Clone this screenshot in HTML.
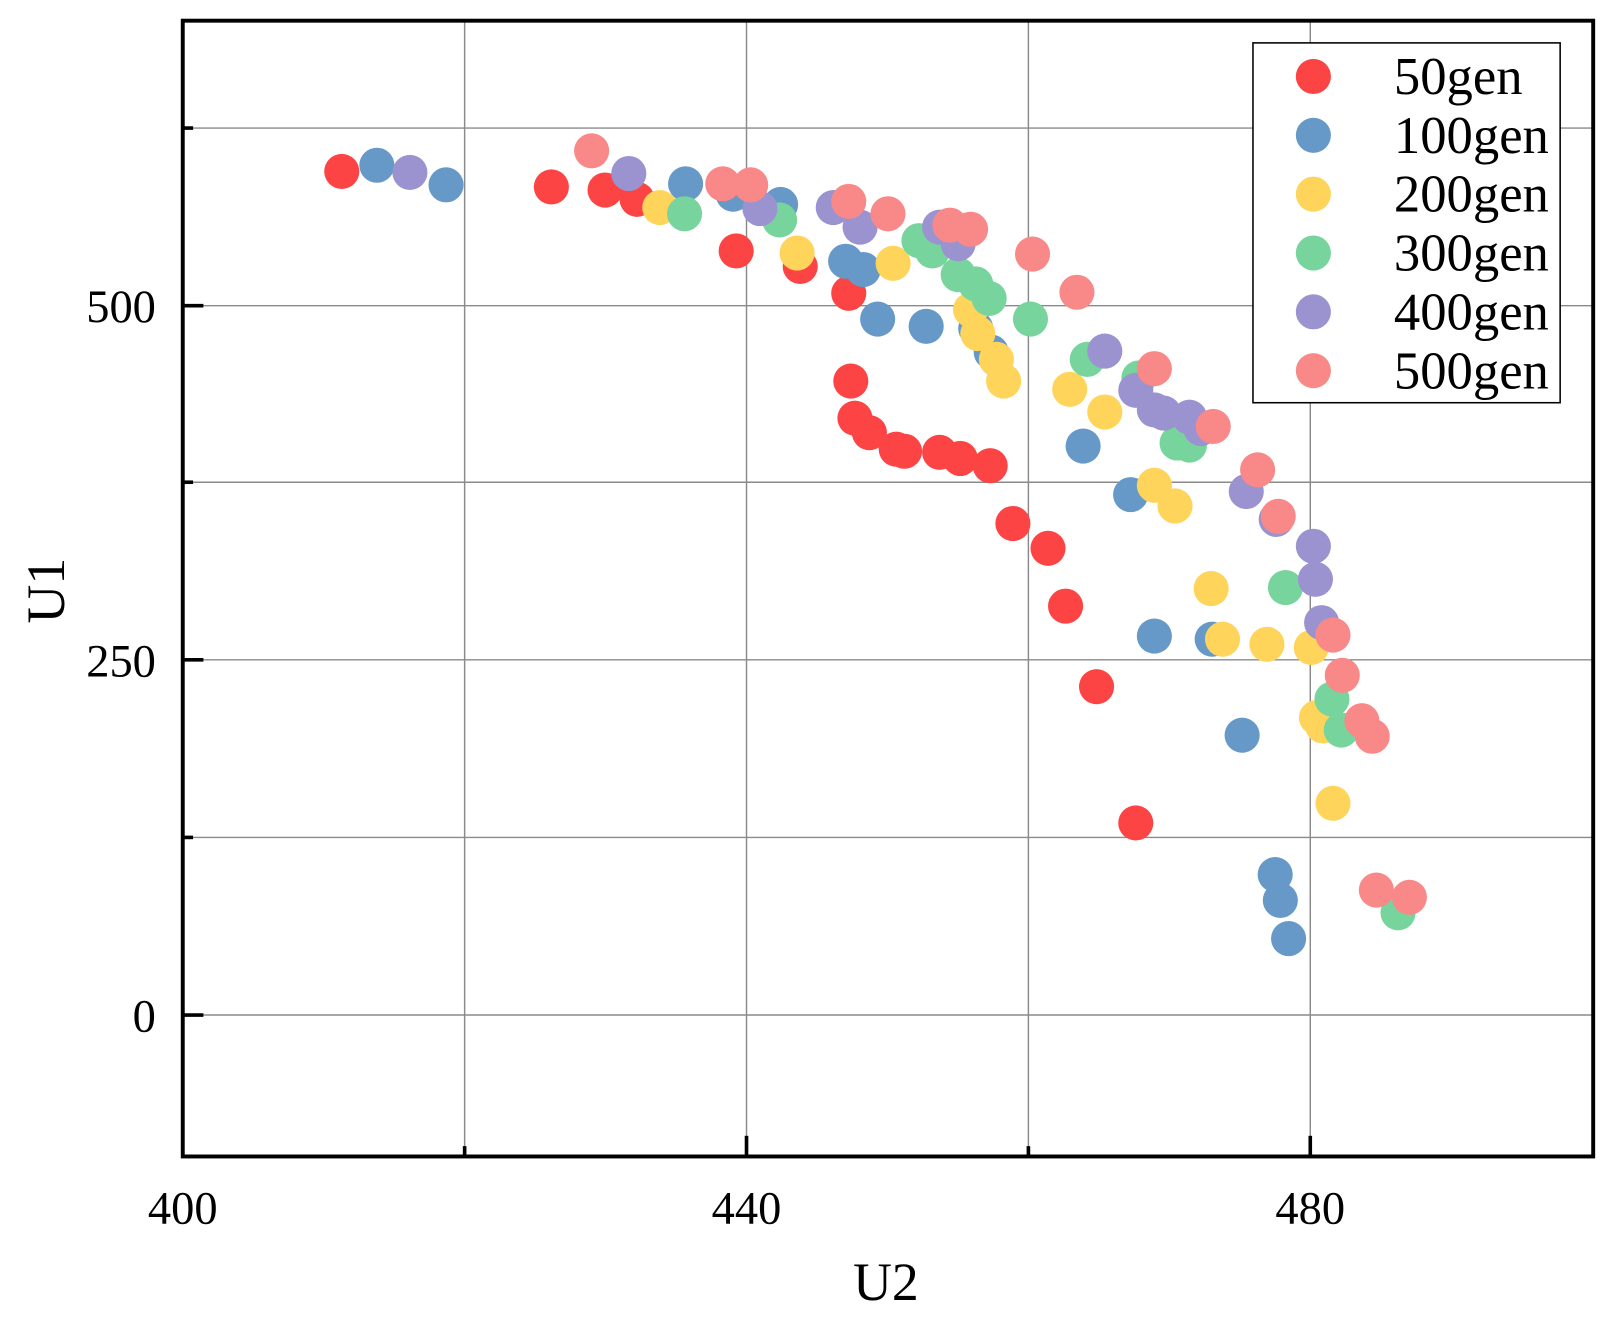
<!DOCTYPE html>
<html><head><meta charset="utf-8"><style>
html,body{margin:0;padding:0;background:#fff;}
svg{display:block;}
text{font-family:"Liberation Serif",serif;fill:#000;}
</style></head><body>
<svg width="1619" height="1331" viewBox="0 0 1568 1289" xmlns="http://www.w3.org/2000/svg">
<rect width="1568" height="1289" fill="#fff"/>
<g stroke="#8a8a8a" stroke-width="1.4">
<line x1="450" y1="20" x2="450" y2="1120"/>
<line x1="723" y1="20" x2="723" y2="1120"/>
<line x1="996" y1="20" x2="996" y2="1120"/>
<line x1="1269" y1="20" x2="1269" y2="1120"/>
<line x1="177" y1="124" x2="1543" y2="124"/>
<line x1="177" y1="296" x2="1543" y2="296"/>
<line x1="177" y1="467" x2="1543" y2="467"/>
<line x1="177" y1="639" x2="1543" y2="639"/>
<line x1="177" y1="811" x2="1543" y2="811"/>
<line x1="177" y1="983" x2="1543" y2="983"/>
</g>
<g stroke="#000" stroke-width="3.5">
<line x1="177" y1="124" x2="187" y2="124"/>
<line x1="177" y1="296" x2="197" y2="296"/>
<line x1="177" y1="467" x2="187" y2="467"/>
<line x1="177" y1="639" x2="197" y2="639"/>
<line x1="177" y1="811" x2="187" y2="811"/>
<line x1="177" y1="983" x2="197" y2="983"/>
<line x1="450" y1="1120" x2="450" y2="1110"/>
<line x1="723" y1="1120" x2="723" y2="1100"/>
<line x1="996" y1="1120" x2="996" y2="1110"/>
<line x1="1269" y1="1120" x2="1269" y2="1100"/>
</g>
<g fill="#fc4444">
<circle cx="331" cy="166" r="17"/><circle cx="534" cy="181" r="17"/><circle cx="586" cy="184" r="17"/><circle cx="617" cy="193" r="17"/><circle cx="713" cy="243" r="17"/><circle cx="775" cy="258" r="17"/><circle cx="822" cy="284" r="17"/><circle cx="824" cy="369" r="17"/><circle cx="828" cy="405" r="17"/><circle cx="842" cy="419" r="17"/><circle cx="868" cy="435" r="17"/><circle cx="876" cy="437" r="17"/><circle cx="910" cy="438" r="17"/><circle cx="930" cy="444" r="17"/><circle cx="959" cy="451" r="17"/><circle cx="981" cy="507" r="17"/><circle cx="1015" cy="531" r="17"/><circle cx="1032" cy="587" r="17"/><circle cx="1062" cy="665" r="17"/><circle cx="1100" cy="797" r="17"/>
</g>
<g fill="#6699c8">
<circle cx="365" cy="160" r="17"/><circle cx="432" cy="179" r="17"/><circle cx="664" cy="178" r="17"/><circle cx="710" cy="188" r="17"/><circle cx="756" cy="198" r="17"/><circle cx="819" cy="253" r="17"/><circle cx="836" cy="261" r="17"/><circle cx="850" cy="309" r="17"/><circle cx="897" cy="316" r="17"/><circle cx="945" cy="318" r="17"/><circle cx="960" cy="341" r="17"/><circle cx="1049" cy="432" r="17"/><circle cx="1095" cy="479" r="17"/><circle cx="1118" cy="616" r="17"/><circle cx="1174" cy="619" r="17"/><circle cx="1203" cy="712" r="17"/><circle cx="1235" cy="847" r="17"/><circle cx="1240" cy="872" r="17"/><circle cx="1248" cy="909" r="17"/>
</g>
<g fill="#fed45a">
<circle cx="639" cy="201" r="17"/><circle cx="772" cy="245" r="17"/><circle cx="865" cy="255" r="17"/><circle cx="940" cy="300" r="17"/><circle cx="947" cy="323" r="17"/><circle cx="965" cy="348" r="17"/><circle cx="972" cy="369" r="17"/><circle cx="1036" cy="377" r="17"/><circle cx="1070" cy="399" r="17"/><circle cx="1118" cy="470" r="17"/><circle cx="1138" cy="490" r="17"/><circle cx="1173" cy="570" r="17"/><circle cx="1184" cy="619" r="17"/><circle cx="1227" cy="624" r="17"/><circle cx="1270" cy="627" r="17"/><circle cx="1275" cy="695" r="17"/><circle cx="1281" cy="703" r="17"/><circle cx="1291" cy="778" r="17"/>
</g>
<g fill="#77d49c">
<circle cx="663" cy="207" r="17"/><circle cx="755" cy="213" r="17"/><circle cx="890" cy="233" r="17"/><circle cx="903" cy="243" r="17"/><circle cx="928" cy="266" r="17"/><circle cx="945" cy="275" r="17"/><circle cx="958" cy="289" r="17"/><circle cx="998" cy="309" r="17"/><circle cx="1053" cy="348" r="17"/><circle cx="1103" cy="366" r="17"/><circle cx="1140" cy="429" r="17"/><circle cx="1152" cy="431" r="17"/><circle cx="1245" cy="569" r="17"/><circle cx="1290" cy="677" r="17"/><circle cx="1299" cy="707" r="17"/><circle cx="1354" cy="884" r="17"/>
</g>
<g fill="#9b93d0">
<circle cx="397" cy="167" r="17"/><circle cx="609" cy="168" r="17"/><circle cx="736" cy="202" r="17"/><circle cx="807" cy="201" r="17"/><circle cx="833" cy="220" r="17"/><circle cx="910" cy="220" r="17"/><circle cx="928" cy="236" r="17"/><circle cx="1070" cy="340" r="17"/><circle cx="1100" cy="378" r="17"/><circle cx="1118" cy="397" r="17"/><circle cx="1127" cy="400" r="17"/><circle cx="1152" cy="404" r="17"/><circle cx="1163" cy="415" r="17"/><circle cx="1207" cy="476" r="17"/><circle cx="1236" cy="503" r="17"/><circle cx="1272" cy="529" r="17"/><circle cx="1274" cy="561" r="17"/><circle cx="1280" cy="603" r="17"/>
</g>
<g fill="#f98888">
<circle cx="573" cy="146" r="17"/><circle cx="700" cy="178" r="17"/><circle cx="727" cy="179" r="17"/><circle cx="822" cy="195" r="17"/><circle cx="860" cy="207" r="17"/><circle cx="920" cy="218" r="17"/><circle cx="940" cy="222" r="17"/><circle cx="1000" cy="246" r="17"/><circle cx="1043" cy="283" r="17"/><circle cx="1118" cy="357" r="17"/><circle cx="1175" cy="413" r="17"/><circle cx="1218" cy="455" r="17"/><circle cx="1238" cy="500" r="17"/><circle cx="1291" cy="615" r="17"/><circle cx="1300" cy="654" r="17"/><circle cx="1319" cy="698" r="17"/><circle cx="1329" cy="713" r="17"/><circle cx="1333" cy="862" r="17"/><circle cx="1365" cy="869" r="17"/>
</g>
<rect x="177" y="20" width="1366" height="1100" fill="none" stroke="#000" stroke-width="3.8"/>
<rect x="1213.5" y="41.5" width="297.5" height="348.5" fill="#fff" stroke="#000" stroke-width="1.5"/>
<circle cx="1272" cy="74" r="17" fill="#fc4444"/>
<circle cx="1272" cy="131" r="17" fill="#6699c8"/>
<circle cx="1272" cy="188" r="17" fill="#fed45a"/>
<circle cx="1272" cy="245" r="17" fill="#77d49c"/>
<circle cx="1272" cy="302" r="17" fill="#9b93d0"/>
<circle cx="1272" cy="359" r="17" fill="#f98888"/>
<g font-size="51">
<text x="1350" y="91">50gen</text>
<text x="1350" y="148">100gen</text>
<text x="1350" y="205">200gen</text>
<text x="1350" y="262">300gen</text>
<text x="1350" y="319">400gen</text>
<text x="1350" y="376">500gen</text>
</g>
<g font-size="45" text-anchor="middle">
<text x="177" y="1185">400</text>
<text x="723" y="1185">440</text>
<text x="1269" y="1185">480</text>
</g>
<g font-size="45" text-anchor="end">
<text x="151" y="312">500</text>
<text x="151" y="655">250</text>
<text x="151" y="999">0</text>
</g>
<text x="858" y="1259" font-size="52" text-anchor="middle">U2</text>
<text transform="translate(62,572) rotate(-90)" font-size="52" text-anchor="middle">U1</text>
</svg>
</body></html>
